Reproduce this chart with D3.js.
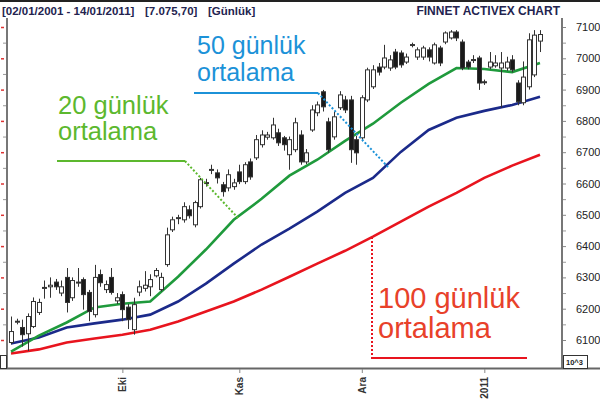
<!DOCTYPE html>
<html><head><meta charset="utf-8">
<script src="https://cdn.jsdelivr.net/npm/d3@7"></script>
<style>body{margin:0;background:#fff;} svg{display:block;}</style>
</head><body>
<svg id="c" width="600" height="405"></svg>
<script>
// [open, high, low, close]
const candles = [
[6092,6175,6086,6127],[6158,6168,6150,6160],[6140,6165,6079,6117],[6120,6185,6065,6175],
[6143,6236,6138,6223],[6188,6232,6180,6220],[6265,6290,6232,6268],[6270,6300,6235,6275],
[6285,6295,6260,6270],[6250,6290,6240,6270],[6300,6330,6188,6220],[6235,6300,6225,6290],
[6283,6330,6270,6285],[6293,6300,6197,6245],[6252,6260,6160,6191],[6181,6340,6172,6300],
[6309,6325,6270,6283],[6261,6290,6250,6277],[6300,6330,6245,6252],[6225,6250,6215,6235],
[6245,6255,6160,6197],[6205,6215,6135,6165],[6133,6235,6117,6213],[6253,6290,6240,6270],
[6265,6320,6255,6275],[6270,6310,6240,6293],[6305,6330,6300,6322],[6261,6315,6255,6300],
[6341,6459,6334,6436],[6452,6494,6445,6484],[6488,6500,6470,6491],[6484,6540,6475,6526],
[6516,6530,6488,6497],[6468,6545,6460,6539],[6526,6618,6520,6612],[6600,6615,6590,6603],
[6642,6660,6630,6645],[6634,6645,6600,6618],[6596,6605,6558,6574],[6586,6645,6575,6628],
[6590,6615,6580,6602],[6637,6660,6598,6606],[6606,6668,6598,6660],[6669,6680,6612,6621],
[6682,6755,6675,6740],[6724,6770,6715,6755],[6748,6765,6740,6755],[6746,6810,6740,6787],
[6762,6775,6720,6730],[6746,6752,6705,6724],[6692,6750,6644,6740],[6708,6810,6700,6794],
[6755,6770,6660,6669],[6669,6710,6662,6698],[6771,6850,6765,6835],[6826,6862,6815,6851],
[6893,6899,6830,6845],[6797,6810,6698,6708],[6749,6830,6740,6813],[6842,6895,6835,6883],
[6867,6880,6825,6835],[6867,6880,6666,6708],[6740,6752,6660,6698],[6746,6882,6735,6874],
[6867,6970,6860,6963],[6909,6978,6902,6963],[6972,6985,6945,6956],[6972,7043,6965,7001],
[6969,7010,6960,6995],[7020,7030,6965,6972],[7017,7025,6970,6979],[6988,7015,6982,7004],
[7042,7050,7035,7044],[7004,7035,6995,7027],[7004,7040,6995,7033],[7027,7035,6990,7004],
[6985,7050,6980,7043],[7033,7040,6975,6985],[7052,7086,7045,7081],[7065,7090,7060,7084],
[7084,7090,7055,7065],[7052,7060,6962,6969],[6988,6995,6965,6972],[6994,7010,6985,6996],
[7001,7008,6899,6921],[6925,6932,6915,6923],[6972,7020,6965,6988],[6976,7010,6970,6985],
[6969,7020,6842,6985],[6969,7005,6960,6988],[6995,7010,6955,6963],[6921,6930,6850,6861],
[6858,6990,6850,6940],[6909,7080,6900,7059],[6947,7090,6940,7074],[7055,7090,7020,7076]
];
const maIndex = [0,5,10,15,20,25,30,35,40,45,50,55,60,65,70,75,80,85,90,95];
const ma20  = [6063,6114,6156,6204,6216,6223,6302,6389,6484,6551,6625,6676,6736,6791,6858,6918,6969,6966,6956,6985];
const ma50  = [6089,6108,6140,6153,6165,6181,6223,6280,6344,6405,6456,6510,6570,6618,6701,6771,6810,6832,6851,6877];
const ma100 = [6057,6070,6092,6105,6117,6133,6159,6191,6223,6261,6302,6344,6385,6430,6478,6526,6570,6618,6657,6692];
const yTicks = [6100,6200,6300,6400,6500,6600,6700,6800,6900,7000,7100];
const yMinorTicks = [6150,6250,6350,6450,6550,6650,6750,6850,6950,7050];
const xTickIndex = [20,41,63,85];
const xTickLabels = ["Eki","Kas","Ara","2011"];

const svg = d3.select("#c");
const x = d3.scaleLinear().domain([0,95]).range([11,540]);
const y = d3.scaleLinear().domain([6100,7100]).range([340,27]);
const FONT = "'Liberation Sans', Arial, sans-serif";

// top border
svg.append("rect").attr("x",0).attr("y",0).attr("width",600).attr("height",2).attr("fill","#222");
// header
[["[02/01/2001 - 14/01/2011]",2],["[7.075,70]",145],["[Günlük]",208]].forEach(([t,px])=>
  svg.append("text").attr("x",px).attr("y",15).attr("font-family",FONT).attr("font-size",11.5)
    .attr("font-weight","bold").attr("fill","#23234f").text(t));
svg.append("text").attr("x",560).attr("y",15).attr("text-anchor","end").attr("font-family",FONT).attr("font-size",12)
  .attr("font-weight","bold").attr("fill","#23234f").text("FINNET ACTIVEX CHART");

// frame lines
svg.append("line").attr("x1",7).attr("x2",7).attr("y1",18).attr("y2",369).attr("stroke","#777").attr("stroke-width",2);
svg.append("line").attr("x1",562).attr("x2",562).attr("y1",18).attr("y2",369).attr("stroke","#777").attr("stroke-width",2);
svg.append("line").attr("x1",0).attr("x2",600).attr("y1",368.5).attr("y2",368.5).attr("stroke","#666").attr("stroke-width",2);

// right axis
const rAxis = svg.append("g").attr("transform","translate(563,0)")
  .call(d3.axisRight(y).tickValues(yTicks).tickSize(3).tickPadding(10).tickFormat(d3.format("d")));
rAxis.select(".domain").remove();
rAxis.selectAll("line").attr("stroke","#888");
rAxis.selectAll("text").attr("font-family",FONT).attr("font-size",11).attr("fill","#222").attr("dy","0.32em");
const rMinor = svg.append("g").attr("transform","translate(563,0)")
  .call(d3.axisRight(y).tickValues(yMinorTicks).tickSize(3).tickFormat(""));
rMinor.select(".domain").remove();
rMinor.selectAll("line").attr("stroke","#999");

// left cut-off axis
const lMaj = svg.append("g").attr("transform","translate(4,0)")
  .call(d3.axisLeft(y).tickValues(yTicks).tickSize(3).tickFormat(""));
lMaj.select(".domain").remove();
lMaj.selectAll("line").attr("stroke","#d33").attr("stroke-width",1.5);
const lMin = svg.append("g").attr("transform","translate(6,0)")
  .call(d3.axisLeft(y).tickValues(yMinorTicks).tickSize(3).tickFormat(""));
lMin.select(".domain").remove();
lMin.selectAll("line").attr("stroke","#999");

// corner boxes
svg.append("rect").attr("x",563.5).attr("y",355.5).attr("width",24).attr("height",13).attr("fill","#fff").attr("stroke","#333");
svg.append("text").attr("x",566).attr("y",365).attr("font-family",FONT).attr("font-size",7.5).attr("font-weight","bold").attr("fill","#222").text("10^3");
svg.append("rect").attr("x",0.5).attr("y",355.5).attr("width",6).attr("height",13).attr("fill","#fff").attr("stroke","#333");

// bottom axis
const bAxis = svg.append("g").attr("transform","translate(0,369)")
  .call(d3.axisBottom(x).tickValues(xTickIndex).tickSize(4).tickFormat((d,i)=>xTickLabels[i]));
bAxis.select(".domain").remove();
bAxis.selectAll("line").attr("stroke","#888");
bAxis.selectAll("text").attr("font-family",FONT).attr("font-size",10).attr("font-weight","bold").attr("fill","#333")
  .attr("transform","rotate(-90)").attr("text-anchor","end").attr("x",-8).attr("y",0).attr("dy","0.35em");

// moving averages
const maLine = arr => d3.line().x((d,i)=>x(maIndex[i])).y(d=>y(d))(arr);
svg.append("path").attr("d",maLine(ma100)).attr("fill","none").attr("stroke","#e8141e").attr("stroke-width",2.6);
svg.append("path").attr("d",maLine(ma50)).attr("fill","none").attr("stroke","#1b2a8a").attr("stroke-width",2.6);
svg.append("path").attr("d",maLine(ma20)).attr("fill","none").attr("stroke","#1f9a3c").attr("stroke-width",2.6);

// candles
const cg = svg.append("g");
const bw = 4;
candles.forEach((c,i)=>{
  const [o,h,l,cl] = c;
  const cx = Math.round(x(i))+0.5;
  cg.append("line").attr("x1",cx).attr("x2",cx).attr("y1",y(h)).attr("y2",y(l)).attr("stroke","#333").attr("stroke-width",1);
  const top = y(Math.max(o,cl)), bot = y(Math.min(o,cl));
  const hgt = Math.max(1, bot-top);
  cg.append("rect").attr("x",cx-bw/2).attr("y",top).attr("width",bw).attr("height",hgt)
    .attr("fill", cl>=o ? "#fff" : "#1a1a1a").attr("stroke","#333").attr("stroke-width",1);
});

// annotations
function label(lines, x0, ys, size, color){
  lines.forEach((t,k)=>svg.append("text").attr("x",x0).attr("y",ys[k]).attr("font-family",FONT)
    .attr("font-size",size).attr("fill",color).text(t));
}
// 50
label(["50 günlük","ortalama"],197,[54,81],25,"#1c92d8");
svg.append("line").attr("x1",194).attr("x2",318).attr("y1",93).attr("y2",93).attr("stroke","#1c92d8").attr("stroke-width",2);
svg.append("line").attr("x1",318).attr("x2",388).attr("y1",93).attr("y2",167).attr("stroke","#1c92d8").attr("stroke-width",2).attr("stroke-dasharray","2,2");
// 20
label(["20 günlük","ortalama"],58,[114,140],25.5,"#5cb82e");
svg.append("line").attr("x1",57).attr("x2",185).attr("y1",161).attr("y2",161).attr("stroke","#5cb82e").attr("stroke-width",2);
svg.append("line").attr("x1",185).attr("x2",238).attr("y1",161).attr("y2",218).attr("stroke","#5cb82e").attr("stroke-width",2).attr("stroke-dasharray","2,2");
// 100
label(["100 günlük","ortalama"],378,[308,338],29,"#e8412a");
svg.append("line").attr("x1",372).attr("x2",372).attr("y1",237).attr("y2",358).attr("stroke","#e8141e").attr("stroke-width",2).attr("stroke-dasharray","2,2");
svg.append("line").attr("x1",371).attr("x2",527).attr("y1",358).attr("y2",358).attr("stroke","#e8141e").attr("stroke-width",2);
</script>
</body></html>
